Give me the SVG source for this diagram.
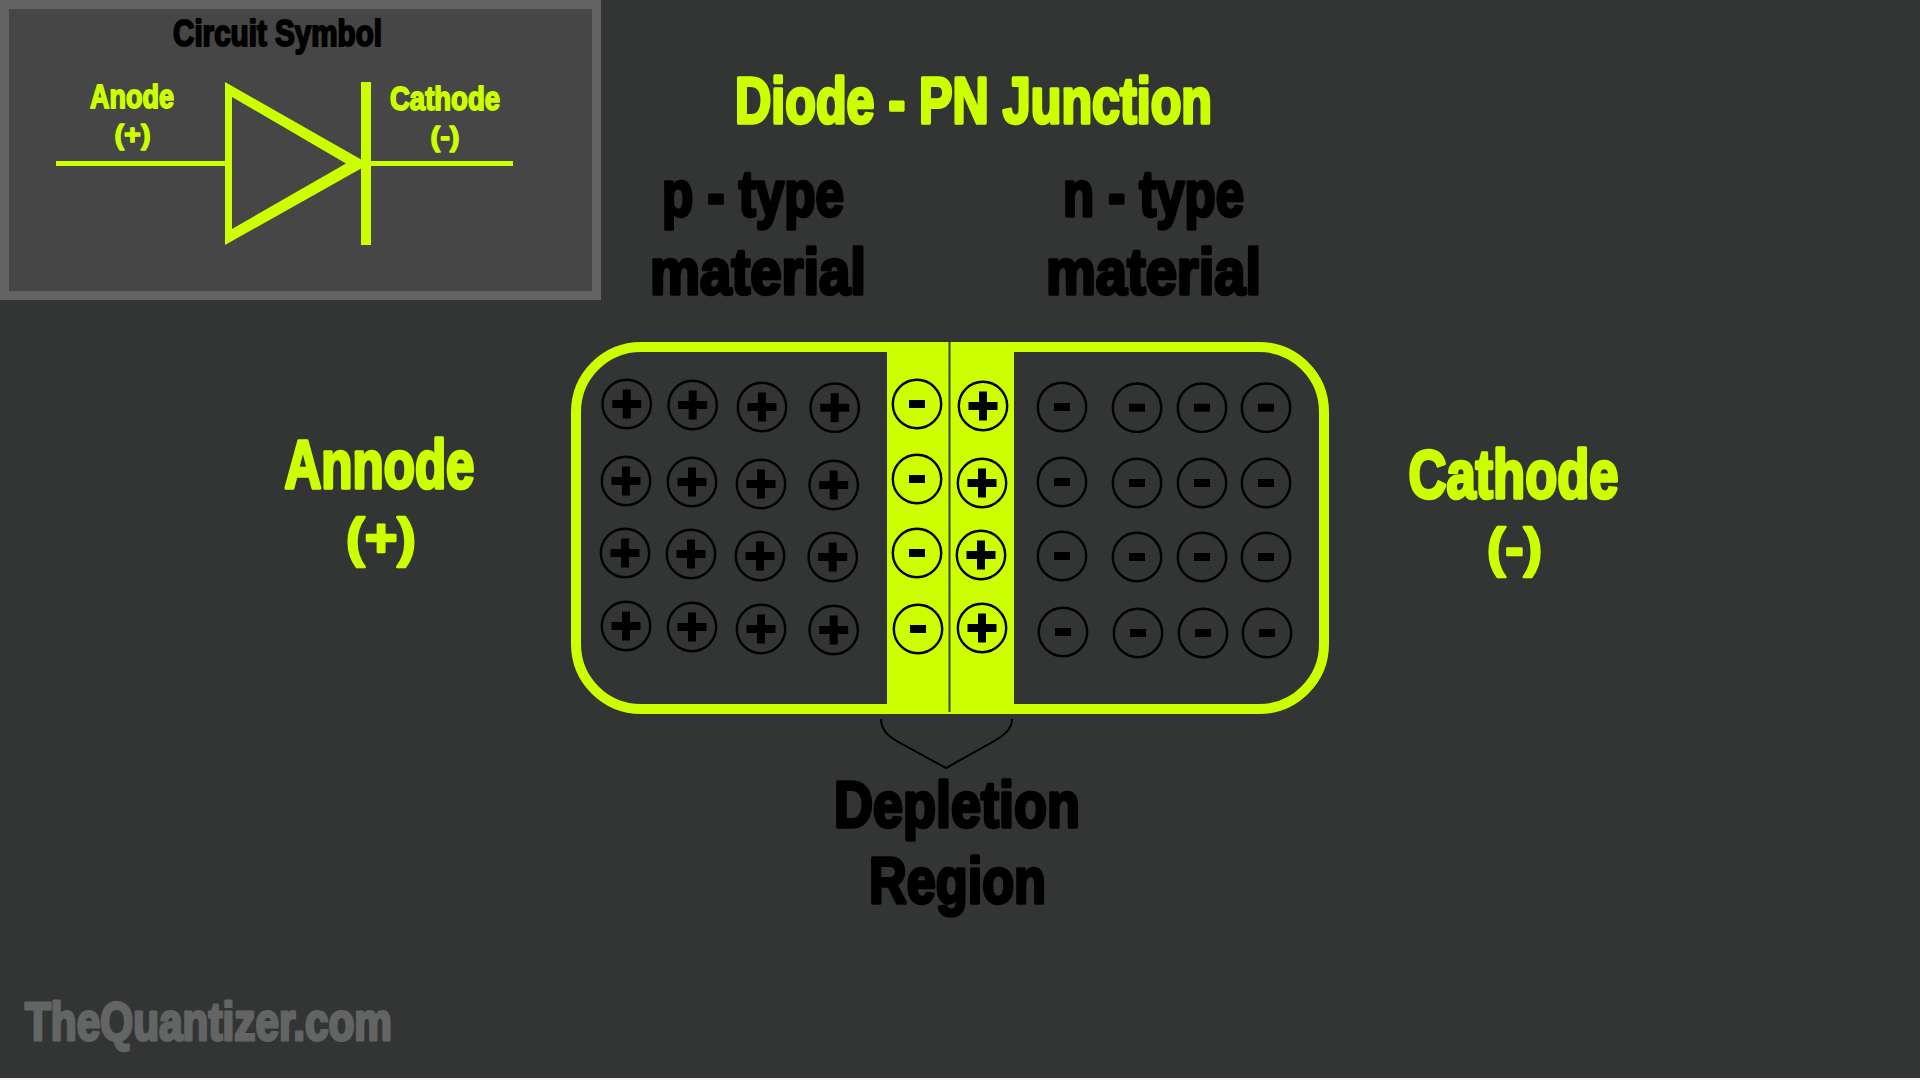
<svg xmlns="http://www.w3.org/2000/svg" width="1920" height="1080" viewBox="0 0 1920 1080">
<defs>
<style>
text{font-family:"Liberation Sans Narrow","Liberation Sans",Arial,sans-serif;font-weight:700;text-anchor:start;stroke-linejoin:round;}
.y{fill:#ccff00;stroke:#ccff00;}
.k{fill:#000;stroke:#000;}
.g{fill:#636565;stroke:#636565;}
.atom{fill:none;stroke:#000;stroke-width:2.4;}
.sign{fill:#000;}
</style>
<g id="plus"><circle class="atom" r="24.2"/><rect class="sign" x="-14.5" y="-4" width="29" height="8"/><rect class="sign" x="-4" y="-14.5" width="8" height="29"/></g>
<g id="minus"><circle class="atom" r="24.2"/><rect class="sign" x="-8" y="-4" width="16" height="8"/></g>
</defs>
<rect width="1920" height="1080" fill="#333535"/>
<rect x="0" y="1078" width="1920" height="2" fill="#f4f4f4"/>
<g id="circuit-symbol">
<rect x="0" y="0" width="601" height="300" fill="#636363"/>
<rect x="9" y="9" width="583" height="282" fill="#464646"/>
<text class="k" x="173" y="45.500" font-size="36" stroke-width="2" textLength="209" lengthAdjust="spacingAndGlyphs">Circuit Symbol</text>
<text class="y" x="90" y="107.500" font-size="33" stroke-width="1.800" textLength="84" lengthAdjust="spacingAndGlyphs">Anode</text>
<text class="y" x="114.500" y="143.500" font-size="27" stroke-width="1.400" textLength="36" lengthAdjust="spacingAndGlyphs">(+)</text>
<text class="y" x="390" y="109.500" font-size="33" stroke-width="1.800" textLength="110" lengthAdjust="spacingAndGlyphs">Cathode</text>
<text class="y" x="430.500" y="145.500" font-size="27" stroke-width="1.400" textLength="29" lengthAdjust="spacingAndGlyphs">(-)</text>
<rect x="56" y="161" width="169" height="5" fill="#ccff00"/>
<rect x="371" y="161" width="142" height="5" fill="#ccff00"/>
<path fill="#ccff00" fill-rule="evenodd" d="M225 82L362 160V168L225 245ZM232 97V229L346 163.500Z"/>
<rect x="361" y="82" width="10" height="163" fill="#ccff00"/>
</g>
<g id="title"><text class="y" x="735" y="123" font-size="64" stroke-width="3.500" textLength="477" lengthAdjust="spacingAndGlyphs">Diode - PN Junction</text></g>
<g id="p-type-label">
<text class="k" x="662" y="216" font-size="64" stroke-width="3.500" textLength="182" lengthAdjust="spacingAndGlyphs">p - type</text>
<text class="k" x="650" y="294" font-size="64" stroke-width="3.500" textLength="216" lengthAdjust="spacingAndGlyphs">material</text>
</g>
<g id="n-type-label">
<text class="k" x="1063" y="216" font-size="64" stroke-width="3.500" textLength="181" lengthAdjust="spacingAndGlyphs">n - type</text>
<text class="k" x="1046" y="294" font-size="64" stroke-width="3.500" textLength="215" lengthAdjust="spacingAndGlyphs">material</text>
</g>
<g id="anode-label">
<text class="y" x="284.500" y="487.500" font-size="68" stroke-width="3.500" textLength="190" lengthAdjust="spacingAndGlyphs">Annode</text>
<text class="y" x="346" y="556" font-size="53" stroke-width="2.500" textLength="70" lengthAdjust="spacingAndGlyphs">(+)</text>
</g>
<g id="cathode-label">
<text class="y" x="1408.500" y="497.500" font-size="68" stroke-width="3.500" textLength="210" lengthAdjust="spacingAndGlyphs">Cathode</text>
<text class="y" x="1487" y="566" font-size="53" stroke-width="2.500" textLength="55" lengthAdjust="spacingAndGlyphs">(-)</text>
</g>
<g id="pn-junction">
<rect x="576" y="347" width="748" height="362" rx="65" fill="none" stroke="#ccff00" stroke-width="10"/>
<rect x="887" y="342" width="127" height="372" fill="#ccff00"/>
<rect x="948.500" y="342" width="2" height="370" fill="#3a4420"/>
</g>
<g id="p-atoms">
<use href="#plus" x="626.700" y="404"/><use href="#plus" x="692.700" y="405"/><use href="#plus" x="762" y="407"/><use href="#plus" x="834.700" y="407.700"/>
<use href="#plus" x="626" y="481"/><use href="#plus" x="692" y="482"/><use href="#plus" x="761" y="484"/><use href="#plus" x="833.700" y="485"/>
<use href="#plus" x="625" y="553"/><use href="#plus" x="691" y="554"/><use href="#plus" x="760" y="556"/><use href="#plus" x="832.700" y="557"/>
<use href="#plus" x="626" y="626"/><use href="#plus" x="692" y="627"/><use href="#plus" x="761" y="629"/><use href="#plus" x="833.700" y="630"/>
</g>
<g id="depletion-atoms">
<use href="#minus" x="917" y="404"/><use href="#minus" x="917" y="479"/><use href="#minus" x="917" y="553"/><use href="#minus" x="918" y="629"/>
<use href="#plus" x="983" y="406"/><use href="#plus" x="982" y="483"/><use href="#plus" x="981" y="555"/><use href="#plus" x="982" y="628"/>
</g>
<g id="n-atoms">
<use href="#minus" x="1062" y="407"/><use href="#minus" x="1137" y="407.700"/><use href="#minus" x="1202" y="407.700"/><use href="#minus" x="1266" y="407.700"/>
<use href="#minus" x="1062" y="482"/><use href="#minus" x="1137" y="483"/><use href="#minus" x="1202" y="483"/><use href="#minus" x="1266" y="483"/>
<use href="#minus" x="1062" y="556"/><use href="#minus" x="1137" y="557"/><use href="#minus" x="1202" y="557"/><use href="#minus" x="1266" y="557"/>
<use href="#minus" x="1063" y="632"/><use href="#minus" x="1138" y="633"/><use href="#minus" x="1203" y="633"/><use href="#minus" x="1267" y="633"/>
</g>
<g id="connectors">
<path d="M881 719C881 733 893 739 902 744L946 768L989 744C999 738 1012 732 1012 719" fill="none" stroke="#000" stroke-width="2"/>
</g>
<g id="depletion-label">
<text class="k" x="834" y="827" font-size="64" stroke-width="3.500" textLength="246" lengthAdjust="spacingAndGlyphs">Depletion</text>
<text class="k" x="869" y="903" font-size="64" stroke-width="3.500" textLength="177" lengthAdjust="spacingAndGlyphs">Region</text>
</g>
<g id="watermark"><text class="g" x="25" y="1040" font-size="53" stroke-width="3" textLength="367" lengthAdjust="spacingAndGlyphs">TheQuantizer.com</text></g>
</svg>
